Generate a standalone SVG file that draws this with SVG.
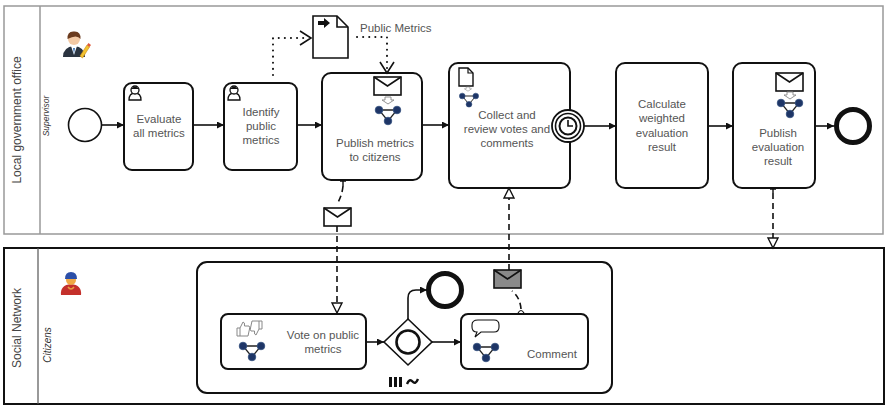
<svg xmlns="http://www.w3.org/2000/svg" width="885" height="405" viewBox="0 0 885 405">
  <style>
    .task { fill: #fff; stroke: #111; stroke-width: 2; }
    .lbl { font-family: "Liberation Sans", Arial, sans-serif; font-size: 11.5px; fill: #555; text-anchor: middle; }
    .pool { font-family: "Liberation Sans", Arial, sans-serif; font-size: 12px; fill: #444; text-anchor: middle; }
    .lane { font-family: "Liberation Sans", Arial, sans-serif; font-style: italic; fill: #333; text-anchor: middle; }
    .seq { fill: none; stroke: #111; stroke-width: 1.6; marker-end: url(#seqArrow); }
    .msg { fill: none; stroke: #111; stroke-width: 1.6; stroke-dasharray: 6 4; }
    .assoc { fill: none; stroke: #111; stroke-width: 2; stroke-dasharray: 0.1 6; stroke-linecap: round; }
    .env { fill: #fff; stroke: #111; stroke-width: 1.6; }
    .net line { stroke: #222; stroke-width: 1.3; }
    .net circle { fill: #1e3566; stroke: #33507f; stroke-width: 0.8; }
  </style>
  <defs>
    <marker id="seqArrow" viewBox="0 0 10 10" refX="10" refY="5" markerWidth="7" markerHeight="7" orient="auto" markerUnits="userSpaceOnUse">
      <path d="M0,0 L10,5 L0,10 Z" fill="#111"/>
    </marker>
    <!-- service-style network glyph: origin at the middle of the top edge -->
    <g id="network" class="net">
      <path d="M-9,0 L9,0 L0,11 Z" fill="#fff" stroke="#222" stroke-width="1.3"/>
      <circle cx="-9" cy="0" r="3.8"/>
      <circle cx="9" cy="0" r="3.8"/>
      <circle cx="0" cy="11" r="3.8"/>
    </g>
    <!-- small hollow down arrow between a glyph and the network -->
    <path id="downArrow" d="M-3,0 H3 V3 H6 L0,7 L-6,3 H-3 Z" fill="#fff" stroke="#888" stroke-width="0.9"/>
    <!-- envelope glyph, 27x18 -->
    <g id="envelope">
      <rect x="0" y="0" width="27" height="18"/>
      <path d="M0,0 L13.5,9 L27,0" fill="none"/>
    </g>
    <!-- task-performer glyph -->
    <g id="user">
      <path d="M-6,12 Q-6,5 0,5 Q6,5 6,12 Z" fill="#fff" stroke="#111" stroke-width="1.3"/>
      <circle cx="0" cy="2" r="4" fill="#fff" stroke="#111" stroke-width="1.3"/>
      <path d="M-4,1 Q0,-4 4,1 Z" fill="#111"/>
    </g>
  </defs>

  <!-- Pool: Local government office -->
  <g id="pool-gov">
    <rect x="4" y="6" width="879" height="228" fill="#fff" stroke="#999" stroke-width="1.5"/>
    <line x1="40" y1="6" x2="40" y2="234" stroke="#999" stroke-width="1.5"/>
    <text class="pool" transform="translate(21,120) rotate(-90)">Local government office</text>
    <text class="lane" font-size="8.5" transform="translate(49,116) rotate(-90)">Supervisor</text>
    <!-- supervisor avatar -->
    <g id="supervisor-avatar" transform="translate(74,43)">
      <path d="M-11,14 Q-11,4 0,3 Q11,4 11,14 Z" fill="#2b3440"/>
      <path d="M-3,3 L0,12 L3,3 Z" fill="#fff"/>
      <path d="M-1,5 L0,11 L1,5 Z" fill="#3a6fb3"/>
      <circle cx="0" cy="-4" r="6" fill="#f3c9a4"/>
      <path d="M-6.5,-4 Q-7,-12 0,-11.5 Q7,-12 6.5,-4 Q3,-9 -6.5,-4 Z" fill="#6b3b1e"/>
      <path d="M6,13 L13,2 L15.5,4 L8.5,15 Z" fill="#f2c230" stroke="#c98a12" stroke-width="0.6"/>
      <path d="M13,2 L14.5,0 L17,2 L15.5,4 Z" fill="#e05a3a"/>
    </g>
  </g>

  <!-- Pool: Social Network -->
  <g id="pool-social">
    <rect x="4" y="248" width="880" height="156" fill="#fff" stroke="#111" stroke-width="2"/>
    <line x1="38" y1="248" x2="38" y2="404" stroke="#555" stroke-width="1.2"/>
    <text class="pool" font-size="11.5" transform="translate(21,328) rotate(-90)">Social Network</text>
    <text class="lane" font-size="10" transform="translate(51,345) rotate(-90)">Citizens</text>
    <!-- citizen avatar -->
    <g id="citizen-avatar" transform="translate(71,283)">
      <path d="M-10,12 Q-11,2 0,1 Q11,2 10,12 Z" fill="#c4302b"/>
      <circle cx="0" cy="-3" r="5" fill="#f0a844"/>
      <path d="M-6,-4 Q-6,-11 0,-11 Q6,-11 6,-4 Z" fill="#2c4fa8"/>
      <path d="M-3,4 Q0,8 3,4" fill="none" stroke="#e8a040" stroke-width="1.5"/>
    </g>
  </g>

  <!-- Supervisor lane nodes -->
  <g id="start">
    <circle cx="85" cy="125" r="16.5" fill="#fff" stroke="#111" stroke-width="1.6"/>
  </g>

  <g id="task-evaluate">
    <rect class="task" x="124" y="83" width="69" height="87" rx="8"/>
    <use href="#user" x="135" y="88"/>
    <text class="lbl" x="159" y="123">Evaluate</text>
    <text class="lbl" x="159" y="137">all metrics</text>
  </g>

  <g id="task-identify">
    <rect class="task" x="224" y="83" width="73" height="87" rx="8"/>
    <use href="#user" x="234" y="88"/>
    <text class="lbl" x="261" y="116">Identify</text>
    <text class="lbl" x="261" y="130">public</text>
    <text class="lbl" x="261" y="144">metrics</text>
  </g>

  <g id="data-public-metrics">
    <path d="M313,16 H337 L348,27 V58 H313 Z" fill="#fff" stroke="#111" stroke-width="1.6"/>
    <path d="M337,16 V27 H348" fill="none" stroke="#111" stroke-width="1.6"/>
    <path d="M318,21 H324 V18 L330,23 L324,28 V25 H318 Z" fill="#111"/>
    <text class="lbl" x="360" y="32" style="text-anchor:start">Public Metrics</text>
  </g>

  <g id="task-publish-metrics">
    <rect class="task" x="322" y="73" width="100" height="107" rx="9"/>
    <use href="#envelope" class="env" x="374" y="77"/>
    <use href="#downArrow" x="388" y="97"/>
    <use href="#network" x="388" y="110"/>
    <text class="lbl" x="375" y="147">Publish metrics</text>
    <text class="lbl" x="375" y="161">to citizens</text>
  </g>

  <g id="task-collect">
    <rect class="task" x="449" y="63" width="121" height="125" rx="9"/>
    <path d="M459,68 H468 L473,73 V86 H459 Z" fill="#fff" stroke="#111" stroke-width="1.4"/>
    <path d="M468,68 V73 H473" fill="none" stroke="#111" stroke-width="1.2"/>
    <use href="#downArrow" transform="translate(468,87) scale(0.6)"/>
    <use href="#network" transform="translate(469,96) scale(0.75)"/>
    <text class="lbl" x="507" y="119">Collect and</text>
    <text class="lbl" x="507" y="133">review votes and</text>
    <text class="lbl" x="507" y="147">comments</text>
  </g>

  <g id="timer">
    <circle cx="568" cy="126" r="16" fill="#fff" stroke="#111" stroke-width="1.8"/>
    <circle cx="568" cy="126" r="12.5" fill="#fff" stroke="#111" stroke-width="1.6"/>
    <circle cx="568" cy="126" r="8.5" fill="#fff" stroke="#111" stroke-width="2"/>
    <path d="M568,120 V126 H573" fill="none" stroke="#111" stroke-width="1.6"/>
  </g>

  <g id="task-calculate">
    <rect class="task" x="616" y="63" width="92" height="125" rx="9"/>
    <text class="lbl" x="662" y="108">Calculate</text>
    <text class="lbl" x="662" y="122">weighted</text>
    <text class="lbl" x="662" y="137">evaluation</text>
    <text class="lbl" x="662" y="151">result</text>
  </g>

  <g id="task-publish-result">
    <rect class="task" x="733" y="63" width="82" height="125" rx="9"/>
    <use href="#envelope" class="env" x="776" y="73"/>
    <use href="#downArrow" x="790" y="92"/>
    <use href="#network" x="790" y="103"/>
    <text class="lbl" x="778" y="137">Publish</text>
    <text class="lbl" x="778" y="151">evaluation</text>
    <text class="lbl" x="778" y="165">result</text>
  </g>

  <g id="end">
    <circle cx="853" cy="126" r="16.5" fill="#fff" stroke="#111" stroke-width="5"/>
  </g>

  <!-- Citizens lane nodes -->
  <g id="subprocess">
    <rect x="197" y="262" width="415" height="131" rx="10" fill="#fff" stroke="#111" stroke-width="2"/>
    <!-- parallel multi-instance and ad-hoc markers -->
    <rect x="389" y="377" width="3" height="10" fill="#111"/>
    <rect x="394" y="377" width="3" height="10" fill="#111"/>
    <rect x="399" y="377" width="3" height="10" fill="#111"/>
    <path d="M407,384 Q409.5,378 412.5,381.5 Q415.5,385 418,379" fill="none" stroke="#111" stroke-width="2.4"/>
  </g>

  <g id="task-vote">
    <rect class="task" x="221" y="314" width="145" height="55" rx="7" stroke-width="1.6"/>
    <!-- thumbs up / thumbs down -->
    <path d="M237,336 V328 H240 L243,322 Q245,322 244.5,326 H249 Q250,327 249.5,329 L248,336 Z M240,328 V336" fill="#fff" stroke="#888" stroke-width="1"/>
    <path d="M252,321 H262 V329 H259 L256,335 Q254,335 254.5,331 H251 Q250,330 250.5,328 Z M259,321 V329" fill="#fff" stroke="#888" stroke-width="1"/>
    <use href="#network" x="252" y="346"/>
    <text class="lbl" x="323" y="339">Vote on public</text>
    <text class="lbl" x="323" y="353">metrics</text>
  </g>

  <g id="gateway">
    <path d="M408,319 L432,342 L408,365 L384,342 Z" fill="#fff" stroke="#111" stroke-width="1.6"/>
    <circle cx="408" cy="342" r="11.5" fill="none" stroke="#111" stroke-width="2.6"/>
  </g>

  <g id="end-sub">
    <circle cx="445" cy="290" r="16.5" fill="#fff" stroke="#111" stroke-width="5"/>
  </g>

  <g id="task-comment">
    <rect class="task" x="461" y="314" width="127" height="55" rx="7" stroke-width="1.6"/>
    <path d="M478,320 H494 Q499,320 499,325 V327 Q499,332 494,332 H481 L475,337 L477,332 Q472,332 472,327 V325 Q472,320 478,320 Z" fill="#fff" stroke="#111" stroke-width="1.1"/>
    <use href="#network" x="486" y="347"/>
    <text class="lbl" x="552" y="358">Comment</text>
  </g>

  <!-- Connectors -->
  <g id="connectors">
    <!-- sequence flows -->
    <path class="seq" d="M102,125 H124"/>
    <path class="seq" d="M193,125 H224"/>
    <path class="seq" d="M297,125 H322"/>
    <path class="seq" d="M422,125 H449"/>
    <path class="seq" d="M584,126 H616"/>
    <path class="seq" d="M708,126 H733"/>
    <path class="seq" d="M815,126 H834"/>
    <path class="seq" d="M366,342 H384"/>
    <path class="seq" d="M408,319 V298 Q408,290 416,290 H427"/>
    <path class="seq" d="M432,342 H461"/>

    <!-- data associations -->
    <path class="assoc" d="M273,75 V38 H309"/>
    <path fill="none" stroke="#111" stroke-width="1.6" d="M300,31 L311,38 L300,45"/>
    <path class="assoc" d="M357,37 H387 V70"/>
    <path fill="none" stroke="#111" stroke-width="1.6" d="M380,62 L387,73 L394,62"/>

    <!-- message: publish metrics to the vote task -->
    <path d="M340,181 H346 M343,181 V186" fill="none" stroke="#111" stroke-width="1.4"/>
    <path class="msg" d="M343,186 Q342,196 337,204"/>
    <use href="#envelope" class="env" x="324" y="208"/>
    <path class="msg" d="M337,226 V306"/>
    <path d="M332,303 L337,313 L342,303 Z" fill="#fff" stroke="#111" stroke-width="1.4"/>

    <!-- message: comment back to the collect task -->
    <path d="M518,313 Q521,308 524,313" fill="#fff" stroke="#111" stroke-width="1.2"/>
    <path class="msg" d="M521,309 Q520,297 512,291"/>
    <use href="#envelope" fill="#8a8a8a" stroke="#111" stroke-width="1.6" x="494" y="270"/>
    <path class="msg" d="M509,270 V197"/>
    <path d="M504,198 L509,188 L514,198 Z" fill="#fff" stroke="#111" stroke-width="1.4"/>

    <!-- message: evaluation result to the social network -->
    <path d="M770,189 H776 M773,189 V193" fill="none" stroke="#111" stroke-width="1.4"/>
    <path class="msg" d="M773,193 V238"/>
    <path d="M768,238 L773,248 L778,238 Z" fill="#fff" stroke="#111" stroke-width="1.4"/>
  </g>
</svg>
